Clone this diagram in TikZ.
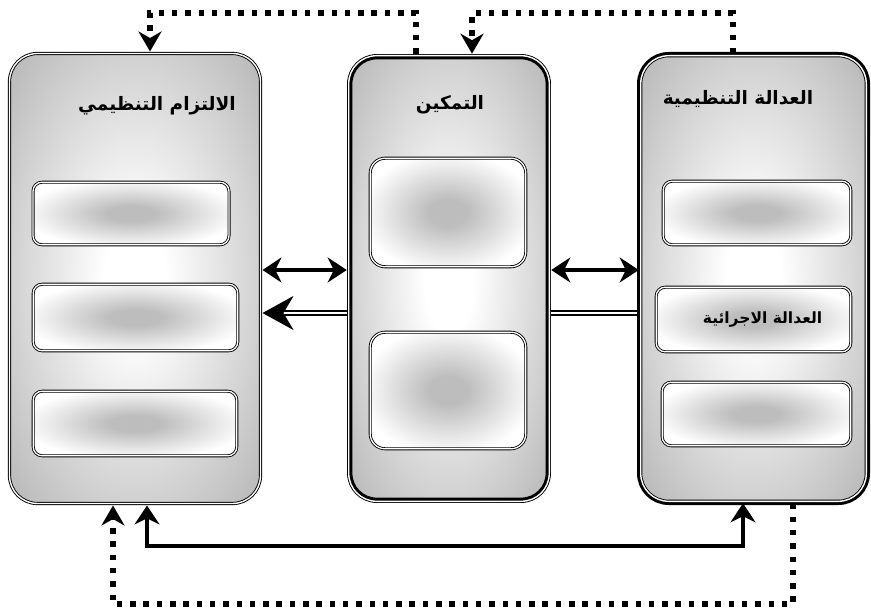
\documentclass[tikz,border=0pt]{standalone}
\usepackage{fontspec}
\newfontfamily\arabicfont[Script=Arabic]{DejaVu Sans}
\TeXXeTstate=1
\usetikzlibrary{arrows.meta, backgrounds}

% grey frame, white glow in the middle
\pgfdeclareradialshading{panelshade}{\pgfpoint{0bp}{0bp}}{color(0bp)=(white); color(6bp)=(white); color(36bp)=(gray!58); color(100bp)=(gray!58)}
% white box, grey blur in the middle
\pgfdeclareradialshading{boxshade}{\pgfpoint{0bp}{0bp}}{color(0bp)=(gray!52); color(6bp)=(gray!52); color(28bp)=(white); color(100bp)=(white)}

\tikzset{
panel/.style={draw, shading=panelshade, rounded corners=28pt, line width=0.9pt, double=white, double distance=1.4pt, outer sep=2pt}, % the three big frames
thickout/.style={preaction={draw, line width=7.4pt}}, % heavy outer rim
thickin/.style={path picture={\draw[line width=7.4pt, rounded corners=28pt] (path picture bounding box.south west) rectangle (path picture bounding box.north east);}}, % heavy inner rim
box/.style={draw, shading=boxshade, rounded corners=9pt, line width=0.85pt, double=white, double distance=1.3pt}, % the small boxes
title/.style={font=\arabicfont\bfseries\fontsize{18.5}{21}\selectfont}, % frame headings
twoway/.style={{Stealth[length=19pt,width=25pt]}-{Stealth[length=19pt,width=25pt]}, line width=4.5pt}, % solid two-way link
flow/.style={-{Stealth[length=31pt,width=34pt]}, line width=1.8pt, double=white, double distance=2.6pt}, % hollow link
loopline/.style={-{Stealth[length=20pt,width=23pt]}, line width=5.5pt, dash pattern=on 5.5pt off 7.8pt}, % dotted feedback
}

\begin{document}
\begin{tikzpicture}[x=1pt, y=-1pt]
    \useasboundingbox (0,0) rectangle (871,612);

    \node[panel, minimum width=251pt, minimum height=450pt] (L) at (135,278.5) {};
    \node[panel, thickin, minimum width=200.6pt, minimum height=445.6pt] (M) at (449,278.5) {};
    \node[panel, thickout, minimum width=225.6pt, minimum height=445.6pt] (R) at (753.5,278.5) {};

    \node[title] (ltitle) at (157,106) {\beginR الالتزام التنظيمي\endR};
    \node[title] (mtitle) at (450,105) {\beginR التمكين\endR};
    \node[title] (rtitle) at (738,99) {\beginR العدالة التنظيمية\endR};

    \node[box, minimum width=196pt, minimum height=62.6pt] (lbox1) at (131,213.5) {};
    \node[box, minimum width=204.6pt, minimum height=66.6pt] (lbox2) at (135.5,317.5) {};
    \node[box, minimum width=203.6pt, minimum height=64.6pt] (lbox3) at (135,423.5) {};

    \node[box, rounded corners=15pt, minimum width=155.6pt, minimum height=108.6pt] (mbox1) at (448,212.5) {};
    \node[box, rounded corners=15pt, minimum width=155.6pt, minimum height=116.6pt] (mbox2) at (448,390.5) {};

    \node[box, minimum width=187.6pt, minimum height=63.6pt] (rbox1) at (757,213) {};
    \node[box, minimum width=194.6pt, minimum height=64.6pt, font=\arabicfont\bfseries\fontsize{15.5}{18}\selectfont] (rbox2) at (753.5,319.5) {\hspace*{18pt}\beginR العدالة الاجرائية\endR};
    \node[box, minimum width=188.6pt, minimum height=63.6pt] (rbox3) at (756.5,414) {};

    \coordinate (topline) at (0,13);
    \coordinate (botline) at (0,546);
    \coordinate (dotline) at (0,604);

    \begin{pgfonlayer}{background}
    \draw[flow] ([yshift=-34.5pt]R.west) -- ([yshift=-34.5pt]L.east);
    \end{pgfonlayer}

    \draw
    ([yshift=8.5pt]L.east) edge[twoway] ([yshift=8.5pt]M.west)
    ([yshift=8.5pt]M.east) edge[twoway] ([yshift=8.5pt]R.west);

    \draw[loopline] ([xshift=-33pt]M.north) -- ([xshift=-33pt]M.north |- topline) -| ([xshift=15pt]L.north);
    \draw[loopline] ([xshift=-20.5pt]R.north) -- ([xshift=-20.5pt]R.north |- topline) -| ([xshift=23pt]M.north);

    \draw[twoway] ([xshift=12pt]L.south) -- ([xshift=12pt]L.south |- botline) -| ([xshift=-10.5pt]R.south);
    \draw[loopline] ([xshift=39.5pt]R.south) -- ([xshift=39.5pt]R.south |- dotline) -| ([xshift=-22pt]L.south);

\end{tikzpicture}
\end{document}
